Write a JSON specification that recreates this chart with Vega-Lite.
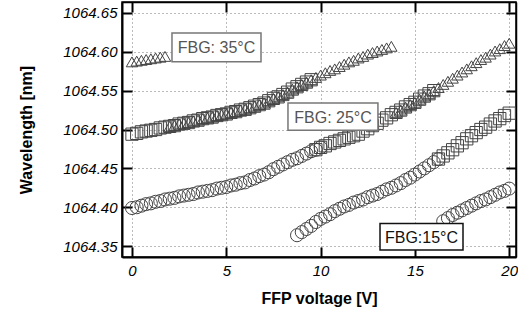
{
  "$schema": "https://vega.github.io/schema/vega-lite/v6.json",
  "width": 394,
  "height": 255,
  "autosize": "none",
  "padding": {"left": 122, "top": 2, "right": 2, "bottom": 62},
  "background": "white",
  "config": {
    "view": {"stroke": "black", "strokeWidth": 1.5},
    "font": "Liberation Sans"
  },
  "datasets": {
    "pts": [
      {"v":0,"w":1064.399,"fbg":"15°C"},{"v":0.25,"w":1064.400,"fbg":"15°C"},{"v":0.5,"w":1064.402,"fbg":"15°C"},{"v":0.75,"w":1064.404,"fbg":"15°C"},
      {"v":1,"w":1064.405,"fbg":"15°C"},{"v":1.25,"w":1064.407,"fbg":"15°C"},{"v":1.5,"w":1064.408,"fbg":"15°C"},{"v":1.75,"w":1064.410,"fbg":"15°C"},
      {"v":2,"w":1064.411,"fbg":"15°C"},{"v":2.25,"w":1064.412,"fbg":"15°C"},{"v":2.5,"w":1064.414,"fbg":"15°C"},{"v":2.75,"w":1064.415,"fbg":"15°C"},
      {"v":3,"w":1064.416,"fbg":"15°C"},{"v":3.25,"w":1064.417,"fbg":"15°C"},{"v":3.5,"w":1064.419,"fbg":"15°C"},{"v":3.75,"w":1064.420,"fbg":"15°C"},
      {"v":4,"w":1064.421,"fbg":"15°C"},{"v":4.25,"w":1064.422,"fbg":"15°C"},{"v":4.5,"w":1064.424,"fbg":"15°C"},{"v":4.75,"w":1064.425,"fbg":"15°C"},
      {"v":5,"w":1064.426,"fbg":"15°C"},{"v":5.25,"w":1064.428,"fbg":"15°C"},{"v":5.5,"w":1064.429,"fbg":"15°C"},{"v":5.75,"w":1064.431,"fbg":"15°C"},
      {"v":6,"w":1064.432,"fbg":"15°C"},{"v":6.25,"w":1064.435,"fbg":"15°C"},{"v":6.5,"w":1064.437,"fbg":"15°C"},{"v":6.75,"w":1064.440,"fbg":"15°C"},
      {"v":7,"w":1064.442,"fbg":"15°C"},{"v":7.25,"w":1064.445,"fbg":"15°C"},{"v":7.5,"w":1064.449,"fbg":"15°C"},{"v":7.75,"w":1064.452,"fbg":"15°C"},
      {"v":8,"w":1064.455,"fbg":"15°C"},{"v":8.25,"w":1064.458,"fbg":"15°C"},{"v":8.5,"w":1064.461,"fbg":"15°C"},{"v":8.75,"w":1064.463,"fbg":"15°C"},
      {"v":9,"w":1064.466,"fbg":"15°C"},{"v":9.25,"w":1064.469,"fbg":"15°C"},{"v":9.5,"w":1064.472,"fbg":"15°C"},{"v":9.75,"w":1064.474,"fbg":"15°C"},
      {"v":10,"w":1064.477,"fbg":"15°C"},
      {"v":8.75,"w":1064.364,"fbg":"15°C"},{"v":9,"w":1064.368,"fbg":"15°C"},{"v":9.25,"w":1064.372,"fbg":"15°C"},{"v":9.5,"w":1064.376,"fbg":"15°C"},
      {"v":9.75,"w":1064.381,"fbg":"15°C"},{"v":10,"w":1064.385,"fbg":"15°C"},{"v":10.25,"w":1064.388,"fbg":"15°C"},{"v":10.5,"w":1064.391,"fbg":"15°C"},
      {"v":10.75,"w":1064.395,"fbg":"15°C"},{"v":11,"w":1064.398,"fbg":"15°C"},{"v":11.25,"w":1064.401,"fbg":"15°C"},{"v":11.5,"w":1064.403,"fbg":"15°C"},
      {"v":11.75,"w":1064.406,"fbg":"15°C"},{"v":12,"w":1064.408,"fbg":"15°C"},{"v":12.25,"w":1064.410,"fbg":"15°C"},{"v":12.5,"w":1064.413,"fbg":"15°C"},
      {"v":12.75,"w":1064.415,"fbg":"15°C"},{"v":13,"w":1064.417,"fbg":"15°C"},{"v":13.25,"w":1064.420,"fbg":"15°C"},{"v":13.5,"w":1064.423,"fbg":"15°C"},
      {"v":13.75,"w":1064.425,"fbg":"15°C"},{"v":14,"w":1064.428,"fbg":"15°C"},{"v":14.25,"w":1064.431,"fbg":"15°C"},{"v":14.5,"w":1064.435,"fbg":"15°C"},
      {"v":14.75,"w":1064.438,"fbg":"15°C"},{"v":15,"w":1064.442,"fbg":"15°C"},{"v":15.25,"w":1064.446,"fbg":"15°C"},{"v":15.5,"w":1064.450,"fbg":"15°C"},
      {"v":15.75,"w":1064.454,"fbg":"15°C"},{"v":16,"w":1064.458,"fbg":"15°C"},{"v":16.25,"w":1064.462,"fbg":"15°C"},
      {"v":16.5,"w":1064.382,"fbg":"15°C"},{"v":16.75,"w":1064.386,"fbg":"15°C"},{"v":17,"w":1064.390,"fbg":"15°C"},{"v":17.25,"w":1064.393,"fbg":"15°C"},
      {"v":17.5,"w":1064.396,"fbg":"15°C"},{"v":17.75,"w":1064.399,"fbg":"15°C"},{"v":18,"w":1064.402,"fbg":"15°C"},{"v":18.25,"w":1064.405,"fbg":"15°C"},
      {"v":18.5,"w":1064.408,"fbg":"15°C"},{"v":18.75,"w":1064.410,"fbg":"15°C"},{"v":19,"w":1064.413,"fbg":"15°C"},{"v":19.25,"w":1064.416,"fbg":"15°C"},
      {"v":19.5,"w":1064.419,"fbg":"15°C"},{"v":19.75,"w":1064.421,"fbg":"15°C"},{"v":20,"w":1064.424,"fbg":"15°C"},

      {"v":0,"w":1064.494,"fbg":"25°C"},{"v":0.25,"w":1064.495,"fbg":"25°C"},{"v":0.5,"w":1064.497,"fbg":"25°C"},{"v":0.75,"w":1064.498,"fbg":"25°C"},
      {"v":1,"w":1064.499,"fbg":"25°C"},{"v":1.25,"w":1064.500,"fbg":"25°C"},{"v":1.5,"w":1064.502,"fbg":"25°C"},{"v":1.75,"w":1064.503,"fbg":"25°C"},
      {"v":2,"w":1064.504,"fbg":"25°C"},{"v":2.25,"w":1064.505,"fbg":"25°C"},{"v":2.5,"w":1064.507,"fbg":"25°C"},{"v":2.75,"w":1064.508,"fbg":"25°C"},
      {"v":3,"w":1064.509,"fbg":"25°C"},{"v":3.25,"w":1064.511,"fbg":"25°C"},{"v":3.5,"w":1064.512,"fbg":"25°C"},{"v":3.75,"w":1064.514,"fbg":"25°C"},
      {"v":4,"w":1064.515,"fbg":"25°C"},{"v":4.25,"w":1064.516,"fbg":"25°C"},{"v":4.5,"w":1064.518,"fbg":"25°C"},{"v":4.75,"w":1064.519,"fbg":"25°C"},
      {"v":5,"w":1064.520,"fbg":"25°C"},{"v":5.25,"w":1064.522,"fbg":"25°C"},{"v":5.5,"w":1064.523,"fbg":"25°C"},{"v":5.75,"w":1064.525,"fbg":"25°C"},
      {"v":6,"w":1064.526,"fbg":"25°C"},{"v":6.25,"w":1064.528,"fbg":"25°C"},{"v":6.5,"w":1064.530,"fbg":"25°C"},{"v":6.75,"w":1064.532,"fbg":"25°C"},
      {"v":7,"w":1064.534,"fbg":"25°C"},{"v":7.25,"w":1064.537,"fbg":"25°C"},{"v":7.5,"w":1064.540,"fbg":"25°C"},{"v":7.75,"w":1064.542,"fbg":"25°C"},
      {"v":8,"w":1064.545,"fbg":"25°C"},{"v":8.25,"w":1064.548,"fbg":"25°C"},{"v":8.5,"w":1064.552,"fbg":"25°C"},{"v":8.75,"w":1064.555,"fbg":"25°C"},
      {"v":9,"w":1064.558,"fbg":"25°C"},{"v":9.25,"w":1064.561,"fbg":"25°C"},{"v":9.5,"w":1064.564,"fbg":"25°C"},
      {"v":9.75,"w":1064.474,"fbg":"25°C"},{"v":10,"w":1064.477,"fbg":"25°C"},{"v":10.25,"w":1064.479,"fbg":"25°C"},{"v":10.5,"w":1064.482,"fbg":"25°C"},
      {"v":10.75,"w":1064.484,"fbg":"25°C"},{"v":11,"w":1064.486,"fbg":"25°C"},{"v":11.25,"w":1064.488,"fbg":"25°C"},{"v":11.5,"w":1064.490,"fbg":"25°C"},
      {"v":11.75,"w":1064.492,"fbg":"25°C"},{"v":12,"w":1064.494,"fbg":"25°C"},{"v":12.25,"w":1064.498,"fbg":"25°C"},{"v":12.5,"w":1064.501,"fbg":"25°C"},
      {"v":12.75,"w":1064.505,"fbg":"25°C"},{"v":13,"w":1064.508,"fbg":"25°C"},{"v":13.25,"w":1064.512,"fbg":"25°C"},{"v":13.5,"w":1064.515,"fbg":"25°C"},
      {"v":13.75,"w":1064.519,"fbg":"25°C"},{"v":14,"w":1064.522,"fbg":"25°C"},{"v":14.25,"w":1064.525,"fbg":"25°C"},{"v":14.5,"w":1064.529,"fbg":"25°C"},
      {"v":14.75,"w":1064.532,"fbg":"25°C"},{"v":15,"w":1064.535,"fbg":"25°C"},{"v":15.25,"w":1064.539,"fbg":"25°C"},{"v":15.5,"w":1064.543,"fbg":"25°C"},
      {"v":15.75,"w":1064.546,"fbg":"25°C"},{"v":16,"w":1064.550,"fbg":"25°C"},
      {"v":16.25,"w":1064.462,"fbg":"25°C"},{"v":16.5,"w":1064.466,"fbg":"25°C"},{"v":16.75,"w":1064.470,"fbg":"25°C"},{"v":17,"w":1064.474,"fbg":"25°C"},
      {"v":17.25,"w":1064.479,"fbg":"25°C"},{"v":17.5,"w":1064.483,"fbg":"25°C"},{"v":17.75,"w":1064.488,"fbg":"25°C"},{"v":18,"w":1064.492,"fbg":"25°C"},
      {"v":18.25,"w":1064.496,"fbg":"25°C"},{"v":18.5,"w":1064.500,"fbg":"25°C"},{"v":18.75,"w":1064.503,"fbg":"25°C"},{"v":19,"w":1064.507,"fbg":"25°C"},
      {"v":19.25,"w":1064.511,"fbg":"25°C"},{"v":19.5,"w":1064.514,"fbg":"25°C"},{"v":19.75,"w":1064.518,"fbg":"25°C"},{"v":20,"w":1064.521,"fbg":"25°C"},

      {"v":0,"w":1064.587,"fbg":"35°C"},{"v":0.25,"w":1064.588,"fbg":"35°C"},{"v":0.5,"w":1064.589,"fbg":"35°C"},{"v":0.75,"w":1064.590,"fbg":"35°C"},
      {"v":1,"w":1064.591,"fbg":"35°C"},{"v":1.25,"w":1064.592,"fbg":"35°C"},{"v":1.5,"w":1064.593,"fbg":"35°C"},{"v":1.75,"w":1064.594,"fbg":"35°C"},
      {"v":2,"w":1064.504,"fbg":"35°C"},{"v":2.25,"w":1064.505,"fbg":"35°C"},{"v":2.5,"w":1064.507,"fbg":"35°C"},{"v":2.75,"w":1064.508,"fbg":"35°C"},
      {"v":3,"w":1064.509,"fbg":"35°C"},{"v":3.25,"w":1064.511,"fbg":"35°C"},{"v":3.5,"w":1064.512,"fbg":"35°C"},{"v":3.75,"w":1064.514,"fbg":"35°C"},
      {"v":4,"w":1064.515,"fbg":"35°C"},{"v":4.25,"w":1064.516,"fbg":"35°C"},{"v":4.5,"w":1064.518,"fbg":"35°C"},{"v":4.75,"w":1064.519,"fbg":"35°C"},
      {"v":5,"w":1064.520,"fbg":"35°C"},{"v":5.25,"w":1064.522,"fbg":"35°C"},{"v":5.5,"w":1064.523,"fbg":"35°C"},{"v":5.75,"w":1064.525,"fbg":"35°C"},
      {"v":6,"w":1064.526,"fbg":"35°C"},{"v":6.25,"w":1064.528,"fbg":"35°C"},{"v":6.5,"w":1064.530,"fbg":"35°C"},{"v":6.75,"w":1064.532,"fbg":"35°C"},
      {"v":7,"w":1064.534,"fbg":"35°C"},{"v":7.25,"w":1064.537,"fbg":"35°C"},{"v":7.5,"w":1064.540,"fbg":"35°C"},{"v":7.75,"w":1064.542,"fbg":"35°C"},
      {"v":8,"w":1064.545,"fbg":"35°C"},{"v":8.25,"w":1064.548,"fbg":"35°C"},{"v":8.5,"w":1064.552,"fbg":"35°C"},{"v":8.75,"w":1064.555,"fbg":"35°C"},
      {"v":9,"w":1064.558,"fbg":"35°C"},{"v":9.25,"w":1064.561,"fbg":"35°C"},{"v":9.5,"w":1064.564,"fbg":"35°C"},{"v":9.75,"w":1064.567,"fbg":"35°C"},
      {"v":10,"w":1064.570,"fbg":"35°C"},{"v":10.25,"w":1064.573,"fbg":"35°C"},{"v":10.5,"w":1064.576,"fbg":"35°C"},{"v":10.75,"w":1064.578,"fbg":"35°C"},
      {"v":11,"w":1064.581,"fbg":"35°C"},{"v":11.25,"w":1064.584,"fbg":"35°C"},{"v":11.5,"w":1064.587,"fbg":"35°C"},{"v":11.75,"w":1064.589,"fbg":"35°C"},
      {"v":12,"w":1064.592,"fbg":"35°C"},{"v":12.25,"w":1064.594,"fbg":"35°C"},{"v":12.5,"w":1064.597,"fbg":"35°C"},{"v":12.75,"w":1064.599,"fbg":"35°C"},
      {"v":13,"w":1064.601,"fbg":"35°C"},{"v":13.25,"w":1064.603,"fbg":"35°C"},{"v":13.5,"w":1064.605,"fbg":"35°C"},{"v":13.75,"w":1064.607,"fbg":"35°C"},
      {"v":14,"w":1064.522,"fbg":"35°C"},{"v":14.25,"w":1064.525,"fbg":"35°C"},{"v":14.5,"w":1064.529,"fbg":"35°C"},{"v":14.75,"w":1064.532,"fbg":"35°C"},
      {"v":15,"w":1064.535,"fbg":"35°C"},{"v":15.25,"w":1064.539,"fbg":"35°C"},{"v":15.5,"w":1064.543,"fbg":"35°C"},{"v":15.75,"w":1064.546,"fbg":"35°C"},
      {"v":16,"w":1064.550,"fbg":"35°C"},{"v":16.25,"w":1064.554,"fbg":"35°C"},{"v":16.5,"w":1064.558,"fbg":"35°C"},{"v":16.75,"w":1064.562,"fbg":"35°C"},
      {"v":17,"w":1064.566,"fbg":"35°C"},{"v":17.25,"w":1064.570,"fbg":"35°C"},{"v":17.5,"w":1064.574,"fbg":"35°C"},{"v":17.75,"w":1064.578,"fbg":"35°C"},
      {"v":18,"w":1064.582,"fbg":"35°C"},{"v":18.25,"w":1064.586,"fbg":"35°C"},{"v":18.5,"w":1064.590,"fbg":"35°C"},{"v":18.75,"w":1064.593,"fbg":"35°C"},
      {"v":19,"w":1064.597,"fbg":"35°C"},{"v":19.25,"w":1064.601,"fbg":"35°C"},{"v":19.5,"w":1064.604,"fbg":"35°C"},{"v":19.75,"w":1064.608,"fbg":"35°C"},
      {"v":20,"w":1064.611,"fbg":"35°C"}
    ],
    "labels": [
      {"text":"FBG: 35°C","v1":2.12,"v2":6.84,"w1":1064.587,"w2":1064.624,"vc":4.48,"wc":1064.606,"kind":"grey"},
      {"text":"FBG: 25°C","v1":8.27,"v2":13.04,"w1":1064.499,"w2":1064.534,"vc":10.66,"wc":1064.516,"kind":"grey"},
      {"text":"FBG:15°C","v1":13.15,"v2":17.55,"w1":1064.345,"w2":1064.379,"vc":15.35,"wc":1064.362,"kind":"black"}
    ]
  },
  "resolve": {"axis": {"x": "independent", "y": "independent"}},
  "layer": [
    {
      "data": {"name": "pts"},
      "mark": {"type": "point", "filled": false, "strokeWidth": 1, "color": "#444444", "opacity": 1},
      "encoding": {
        "x": {"field": "v", "type": "quantitative",
          "scale": {"domain": [-0.53, 20.36], "nice": false, "zero": false},
          "axis": {"title": "FFP voltage [V]", "values": [0, 5, 10, 15, 20], "grid": true, "gridDash": [1, 3], "gridColor": "#777", "gridWidth": 1,
            "tickSize": -10, "tickWidth": 2, "tickColor": "black", "domainColor": "black", "domainWidth": 2,
            "labelFont": "Liberation Sans", "labelFontStyle": "italic", "labelFontSize": 15, "labelColor": "black", "labelPadding": 16,
            "titleFont": "Liberation Sans", "titleFontWeight": "bold", "titleFontSize": 16, "titleColor": "black", "titlePadding": 12}},
        "y": {"field": "w", "type": "quantitative",
          "scale": {"domain": [1064.336, 1064.664], "nice": false, "zero": false},
          "axis": {"title": "Wavelength [nm]", "values": [1064.35, 1064.4, 1064.45, 1064.5, 1064.55, 1064.6, 1064.65], "format": ".2f",
            "grid": true, "gridDash": [1, 3], "gridColor": "#777", "gridWidth": 1,
            "tickSize": -10, "tickWidth": 2, "tickColor": "black", "domainColor": "black", "domainWidth": 2,
            "labelFont": "Liberation Sans", "labelFontStyle": "italic", "labelFontSize": 15, "labelColor": "black", "labelPadding": 15,
            "titleFont": "Liberation Sans", "titleFontWeight": "bold", "titleFontSize": 16, "titleColor": "black", "titlePadding": 28}},
        "shape": {"field": "fbg", "type": "nominal", "legend": null,
          "scale": {"domain": ["15°C", "25°C", "35°C"], "range": ["circle", "square", "triangle-up"]}},
        "size": {"field": "fbg", "type": "nominal", "legend": null,
          "scale": {"domain": ["15°C", "25°C", "35°C"], "range": [170, 130, 200]}}
      }
    },
    {
      "data": {"name": "labels"},
      "mark": {"type": "rect", "fill": "white", "strokeWidth": 1.5},
      "encoding": {
        "x": {"field": "v1", "type": "quantitative", "scale": {"domain": [-0.53, 20.36], "nice": false, "zero": false},
          "axis": {"orient": "top", "title": null, "labels": false, "grid": false, "values": [0, 5, 10, 15, 20], "tickSize": -10, "tickWidth": 2, "tickColor": "black", "domainColor": "black", "domainWidth": 1.5}},
        "x2": {"field": "v2"},
        "y": {"field": "w1", "type": "quantitative", "scale": {"domain": [1064.336, 1064.664], "nice": false, "zero": false},
          "axis": {"orient": "right", "title": null, "labels": false, "grid": false, "values": [1064.35, 1064.4, 1064.45, 1064.5, 1064.55, 1064.6, 1064.65], "tickSize": -10, "tickWidth": 2, "tickColor": "black", "domainColor": "black", "domainWidth": 1.5}},
        "y2": {"field": "w2"},
        "stroke": {"field": "kind", "type": "nominal", "legend": null, "scale": {"domain": ["grey", "black"], "range": ["#777777", "#111111"]}}
      }
    },
    {
      "data": {"name": "labels"},
      "mark": {"type": "text", "font": "Liberation Sans", "fontSize": 16, "align": "center", "baseline": "middle", "dy": 1},
      "encoding": {
        "x": {"field": "vc", "type": "quantitative", "scale": {"domain": [-0.53, 20.36], "nice": false, "zero": false}, "axis": null},
        "y": {"field": "wc", "type": "quantitative", "scale": {"domain": [1064.336, 1064.664], "nice": false, "zero": false}, "axis": null},
        "text": {"field": "text"},
        "color": {"field": "kind", "type": "nominal", "legend": null, "scale": {"domain": ["grey", "black"], "range": ["#555555", "#111111"]}}
      }
    }
  ]
}
